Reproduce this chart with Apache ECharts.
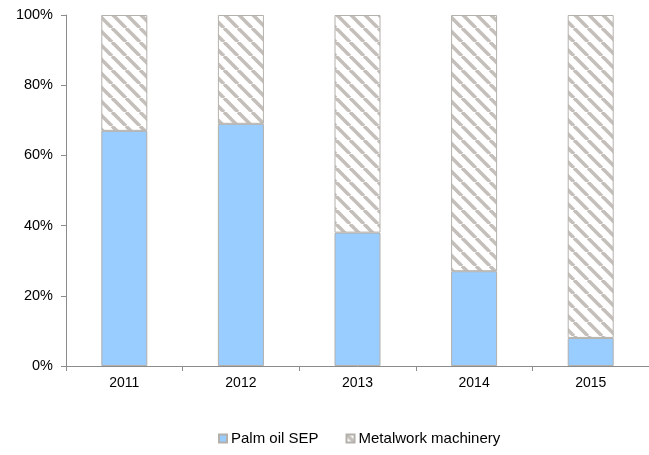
<!DOCTYPE html>
<html>
<head>
<meta charset="utf-8">
<script src="https://cdn.jsdelivr.net/npm/echarts@6/dist/echarts.min.js"></script>
<style>
  html, body { margin: 0; padding: 0; background: #fff; }
  #chart { width: 649px; height: 455px; }
</style>
</head>
<body>
<div id="chart"></div>
<script>
let years = ["2011", "2012", "2013", "2014", "2015"];
let palmOil = [67, 69, 38, 27, 8];
let metalwork = [33, 31, 62, 73, 92];

// diagonal hatch tile, "\" direction
function makeHatch() {
  const size = 14;
  const c = document.createElement("canvas");
  c.width = size;
  c.height = size;
  const ctx = c.getContext("2d");
  ctx.fillStyle = "#ffffff";
  ctx.fillRect(0, 0, size, size);
  ctx.strokeStyle = "#c4bfba";
  ctx.lineWidth = 3.6;
  for (const off of [-size, 0, size]) {
    ctx.beginPath();
    ctx.moveTo(off, 0);
    ctx.lineTo(off + size, size);
    ctx.stroke();
  }
  return c;
}

let chart = echarts.init(document.getElementById("chart"));

let option = {
  animation: false,
  textStyle: { fontFamily: "Liberation Sans, Arial, sans-serif" },
  grid: {
    left: 66,
    right: 0,
    top: 15,
    bottom: 89,
  },
  legend: {
    bottom: 4,
    left: 213,
    itemWidth: 8,
    itemHeight: 8,
    itemGap: 27,
    icon: "rect",
    textStyle: { fontSize: 15, color: "#000", padding: [0, 0, 0, -1] },
    data: ["Palm oil SEP", "Metalwork machinery"],
  },
  xAxis: {
    type: "category",
    data: years,
    axisLine: { lineStyle: { color: "#8c8c8c", width: 1 } },
    axisTick: { show: true, length: 5, lineStyle: { color: "#8c8c8c" } },
    axisLabel: { color: "#000", fontSize: 14, margin: 10 },
  },
  yAxis: {
    type: "value",
    min: 0,
    max: 100,
    interval: 20,
    axisLine: { show: true, lineStyle: { color: "#8c8c8c", width: 1 } },
    axisTick: { show: true, length: 5, lineStyle: { color: "#8c8c8c" } },
    axisLabel: { color: "#000", fontSize: 14.5, margin: 13, formatter: "{value}%" },
    splitLine: { show: false },
  },
  series: [
    {
      name: "Palm oil SEP",
      type: "bar",
      stack: "total",
      barWidth: 46,
      data: palmOil,
      itemStyle: { color: "#99ccff", borderColor: "#b4b0ab", borderWidth: 1 },
    },
    {
      name: "Metalwork machinery",
      type: "bar",
      stack: "total",
      barWidth: 46,
      data: metalwork,
      itemStyle: {
        color: { image: makeHatch(), repeat: "repeat" },
        borderColor: "#b4b0ab",
        borderWidth: 1,
      },
    },
  ],
};

chart.setOption(option);
</script>
</body>
</html>
